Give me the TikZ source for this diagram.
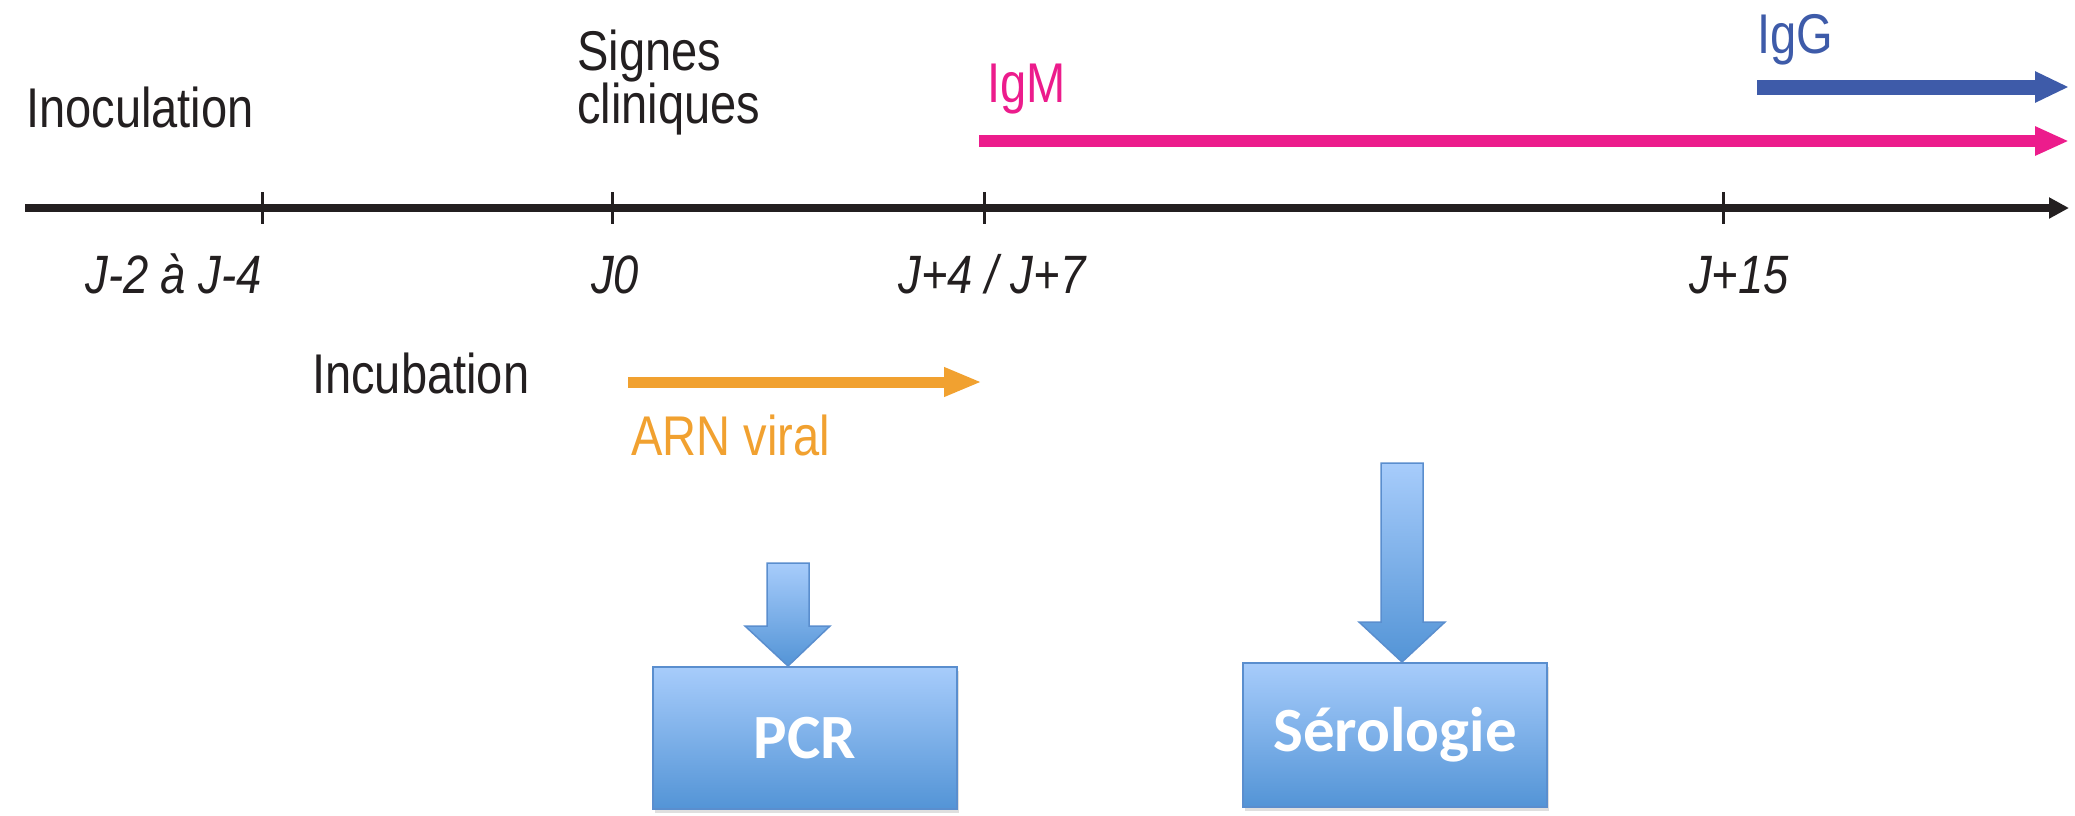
\documentclass[tikz,border=0pt]{standalone}
\usepackage{fontspec}
\setmainfont{Liberation Sans}
\newfontfamily\condf[FakeStretch=0.84]{Liberation Sans}
\newfontfamily\boxf{Carlito}
\usetikzlibrary{arrows.meta,shadows}
\definecolor{axisc}{HTML}{231F20}
\definecolor{igmc}{HTML}{EC1C8C}
\definecolor{iggc}{HTML}{3E5BA9}
\definecolor{arnc}{HTML}{F1A130}
\definecolor{boxtop}{HTML}{A7CCFB}
\definecolor{boxbot}{HTML}{5394D6}
\definecolor{boxline}{HTML}{5A8ECE}
\begin{document}
\begin{tikzpicture}[x=1pt,y=-1pt,
  lbl/.style={inner sep=0pt, font=\condf\fontsize{56}{52}\selectfont, text=axisc},
  daylbl/.style={inner sep=0pt, font=\condf\itshape\fontsize{54}{54}\selectfont, text=axisc, anchor=base},
  axisline/.style={draw=axisc, line width=8pt, -{Triangle[length=20pt,width=20pt]}},
  tickline/.style={draw=axisc, line width=3pt},
  igmline/.style={draw=igmc, line width=12pt, -{Triangle[length=34pt,width=27pt]}},
  iggline/.style={draw=iggc, line width=15pt, -{Triangle[length=34pt,width=29pt]}},
  arnline/.style={draw=arnc, line width=11pt, -{Triangle[length=38pt,width=27pt]}},
  testbox/.style={draw=boxline, line width=1.5pt, top color=boxtop, bottom color=boxbot,
    text=white, font=\boxf\bfseries\fontsize{63}{63}\selectfont, inner sep=0pt,
    drop shadow={shadow xshift=2pt, shadow yshift=-4pt, opacity=0.25}},
  blockarrow/.style={draw=boxline, line width=1.5pt, top color=boxtop, bottom color=boxbot},
]
\useasboundingbox (0,0) rectangle (2075,815);

% timeline axis
\coordinate (axstart) at (25,208);
\coordinate (axend) at (2069,208);
\draw[axisline] (axstart) -- (axend);

% ticks
\coordinate (tA) at (262,208);
\coordinate (tB) at (612,208);
\coordinate (tC) at (984,208);
\coordinate (tD) at (1723,208);
\foreach \t in {tA,tB,tC,tD}
  \draw[tickline] (\t) ++(0,-16) -- ++(0,32);

% tick labels
\node[daylbl, anchor=base east] (dA) at (262,293) {J-2 à J-4};
\node[daylbl] (dB) at (615,293) {J0};
\node[daylbl] (dC) at (992,293) {J+4 / J+7};
\node[daylbl] (dD) at (1739,293) {J+15};

% event labels
\node[lbl, anchor=base west] (inoc) at (26,127) {Inoculation};
\node[lbl, anchor=north west, align=left] (signes) at (577,30) {Signes\\cliniques};
\node[lbl, anchor=base west] (incub) at (312,393) {Incubation};

% IgM
\node[lbl, anchor=base west, text=igmc] (igm) at (987,102) {IgM};
\coordinate (igmS) at (979,141);
\coordinate (igmE) at (2069,141);
\draw[igmline] (igmS) -- (igmE);

% IgG
\node[lbl, anchor=base west, text=iggc] (igg) at (1757,53) {IgG};
\coordinate (iggS) at (1757,87);
\coordinate (iggE) at (2069,87);
\draw[iggline] (iggS) -- (iggE);

% ARN viral
\coordinate (arnS) at (628,382);
\coordinate (arnE) at (982,382);
\draw[arnline] (arnS) -- (arnE);
\node[lbl, anchor=base west, text=arnc] (arn) at (631,455) {ARN viral};

% test boxes
\node[testbox, minimum width=304pt, minimum height=142pt] (pcr) at (805,738) {PCR};
\node[testbox, minimum width=304pt, minimum height=144pt] (sero) at (1395,735) {Sérologie};

% block arrows
\coordinate (pcrtip) at (788,666);
\shade[blockarrow] (767,563) -- (809,563) -- (809,626) -- (830,626) -- (pcrtip)
  -- (745,626) -- (767,626) -- cycle;
\coordinate (serotip) at (1402,662);
\shade[blockarrow] (1381,463) -- (1423,463) -- (1423,622) -- (1445,622) -- (serotip)
  -- (1359,622) -- (1381,622) -- cycle;
\end{tikzpicture}
\end{document}
